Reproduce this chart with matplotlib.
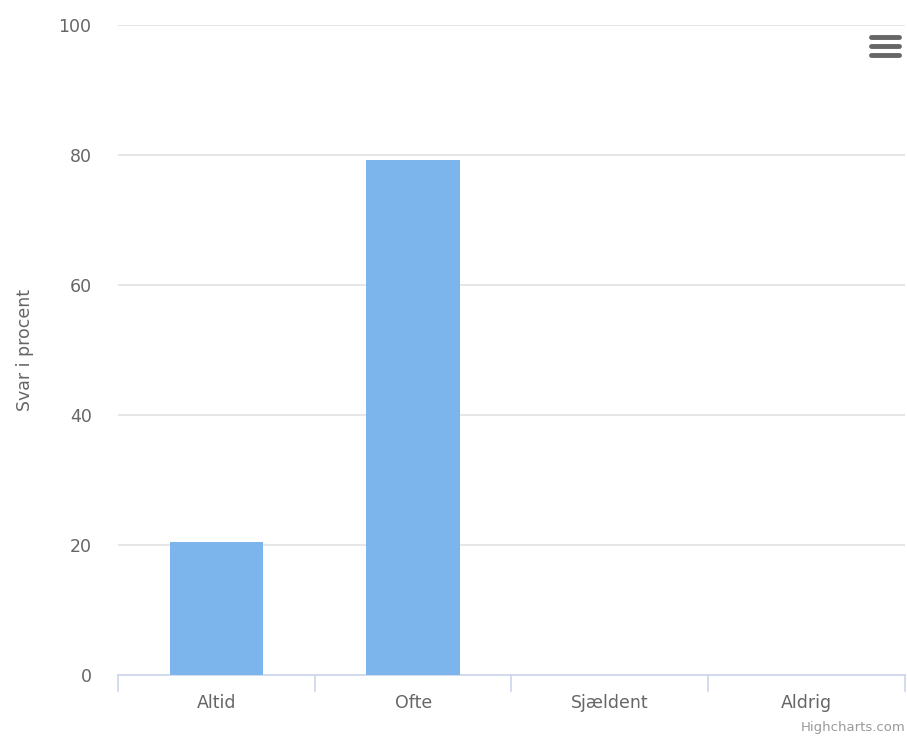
import matplotlib
matplotlib.use("Agg")
from matplotlib import pyplot as plt
import numpy as np

categories = ['Altid', 'Ofte', 'Sjældent', 'Aldrig']
values = [20.4, 79.2, 0, 0]
y_ticks = [0, 20, 40, 60, 80, 100]

plt.rcParams['font.family'] = ['DejaVu Sans']

fig = plt.figure(figsize=(9.07, 7.40), dpi=100)
ax = fig.add_axes([118 / 907, 1 - 675 / 740, (905 - 118) / 907, (675 - 25) / 740])

x = np.arange(len(categories))
ax.bar(x, values, width=0.475, color='#7cb5ec', zorder=3)

ax.set_xlim(-0.5, len(categories) - 0.5)
ax.set_ylim(0, 100)
ax.set_yticks(y_ticks)
ax.set_yticklabels([str(t) for t in y_ticks], fontsize=12.5, color='#666666')
ax.set_xticks(x)
ax.set_xticklabels(categories, fontsize=12.5, color='#666666')
ax.tick_params(axis='y', length=0, pad=19)
ax.tick_params(axis='x', length=0, pad=14)

# category separators on x axis
for b in np.arange(-0.5, len(categories), 1.0):
    ax.plot([b, b], [0, -2.4], color='#ccd6eb', lw=1.2, clip_on=False, zorder=4)

ax.grid(axis='y', color='#e6e6e6', lw=1.4, zorder=0)
for s in ['top', 'right', 'left']:
    ax.spines[s].set_visible(False)
ax.spines['bottom'].set_color('#ccd6eb')
ax.spines['bottom'].set_linewidth(1.2)

ax.set_ylabel('Svar i procent', fontsize=12.5, color='#666666')
ax.yaxis.set_label_coords(-0.107, 0.5)

fig.text(905 / 907, 1 - 728 / 740, 'Highcharts.com', fontsize=9.5, color='#999999',
         ha='right', va='center')

# export menu icon
for yy in [37, 46, 55]:
    fig.add_artist(plt.Line2D([871 / 907, 899 / 907], [1 - yy / 740, 1 - yy / 740],
                              color='#666666', lw=3.5, solid_capstyle='round'))

fig.savefig('out.png', dpi=100)
